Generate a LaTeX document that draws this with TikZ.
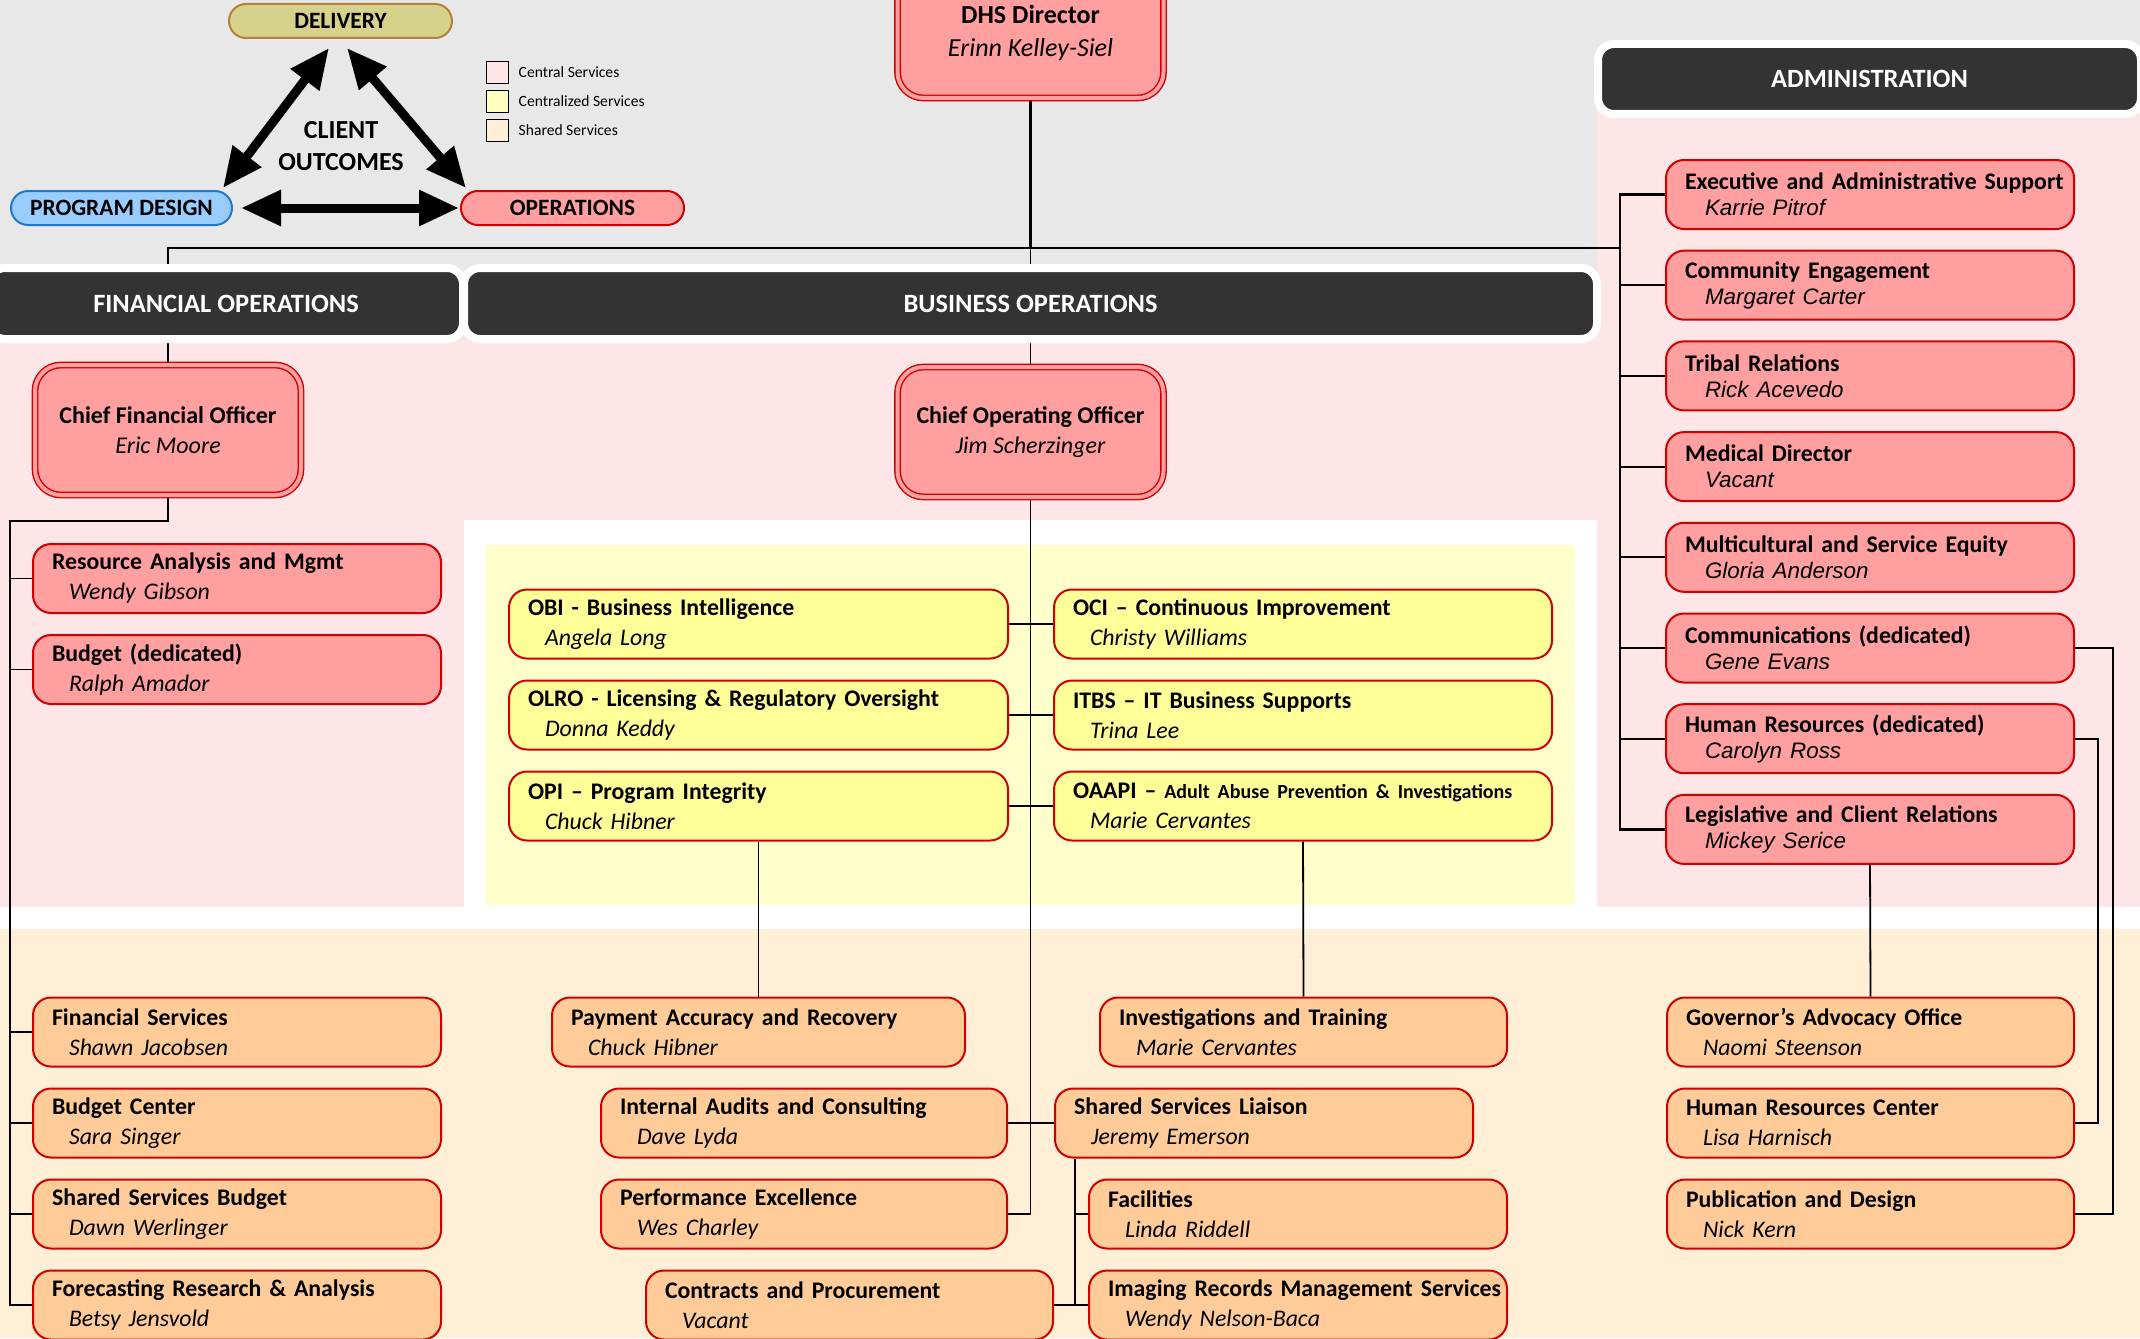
\documentclass[tikz,border=0pt]{standalone}
\usepackage{fontspec}
\setmainfont{Carlito}
\newfontfamily\arialfont{Liberation Sans}
\usetikzlibrary{positioning,arrows.meta}

\definecolor{backgray}{HTML}{E8E8E8}
\definecolor{centralbg}{HTML}{FDE5E8}
\definecolor{centralizedbg}{HTML}{FFFFCC}
\definecolor{sharedbg}{HTML}{FFEFD7}
\definecolor{centralfill}{HTML}{FF9F9F}
\definecolor{centralizedfill}{HTML}{FFFF99}
\definecolor{sharedfill}{HTML}{FFCC99}
\definecolor{unitline}{HTML}{D00000}
\definecolor{headdark}{HTML}{333333}
\definecolor{designfill}{HTML}{99CCFF}
\definecolor{designline}{HTML}{1F77D0}
\definecolor{deliveryfill}{HTML}{D7D28B}
\definecolor{deliveryline}{HTML}{B5803A}
\definecolor{keypink}{HTML}{FFE5E8}
\definecolor{keyyellow}{HTML}{FFFFC0}
\definecolor{keypeach}{HTML}{FFEFD6}

\pgfdeclarelayer{bg}
\pgfdeclarelayer{wires}
\pgfsetlayers{bg,wires,main}

\newcommand{\orgtext}[2]{\hspace*{9.5pt}\mbox{\textbf{#1}}\\\hspace*{18pt}\mbox{\textit{#2}}}
\newcommand{\admintext}[2]{\hspace*{9.5pt}\mbox{\textbf{#1}}\\\hspace*{19.5pt}\mbox{\arialfont\itshape\fontsize{11.2}{13}\selectfont #2}}

\begin{document}
\begin{tikzpicture}[x=0.5pt,y=-0.5pt]
  \tikzstyle{orgbox}=[rectangle,rounded corners=9pt,draw=unitline,line width=1pt,minimum height=34.5pt,inner sep=0pt,align=left,font=\fontsize{11.9}{15}\selectfont,node distance=45.5pt]
  \tikzstyle{central unit}=[orgbox,fill=centralfill]
  \tikzstyle{admin unit}=[central unit,node distance=45.35pt,font=\fontsize{11.9}{13}\selectfont]
  \tikzstyle{centralized unit}=[orgbox,fill=centralizedfill]
  \tikzstyle{shared unit}=[orgbox,fill=sharedfill]
  \tikzstyle{chief}=[rectangle,rounded corners=13pt,fill=centralfill,draw=unitline,double=centralfill,double distance=2pt,line width=0.7pt,minimum width=133pt,minimum height=65pt,align=center,font=\fontsize{12}{15}\selectfont]
  \tikzstyle{division}=[rectangle,rounded corners=8pt,fill=headdark,draw=white,line width=4pt,minimum height=35.5pt,inner sep=0pt,text=white,font=\fontsize{13.2}{15}\selectfont\bfseries]
  \tikzstyle{capsule}=[rectangle,rounded corners=8.5pt,line width=1pt,minimum width=111.5pt,minimum height=17pt,inner sep=0pt,font=\fontsize{11.7}{14}\selectfont\bfseries]
  \tikzstyle{bigarrow}=[line width=4.5pt,arrows={Triangle[length=20pt,width=17pt]-Triangle[length=20pt,width=17pt]}]
  \tikzstyle{keybox}=[rectangle,draw=black,line width=0.8pt,minimum size=11pt,inner sep=0pt,node distance=14.5pt]
  \tikzstyle{keytext}=[inner sep=0pt,font=\fontsize{7.8}{9}\selectfont]
  \tikzstyle{link}=[draw=black,line width=0.9pt]

  \useasboundingbox (0,0) rectangle (2140,1338);
  \clip (0,0) rectangle (2140,1338);

  % service areas
  \begin{pgfonlayer}{bg}
    \fill[backgray] (0,0) rectangle (2140,343);
    \fill[centralbg] (0,335) rectangle (1597,907);
    \fill[white] (464,520) rectangle (1597,929);
    \fill[centralizedbg] (486,545) rectangle (1575,905);
    \fill[centralbg] (1597,110) rectangle (2140,907);
    \fill[white] (0,907) rectangle (2140,929);
    \fill[sharedbg] (0,929) rectangle (2140,1338);
  \end{pgfonlayer}

  % client outcomes triangle
  \node[capsule,fill=deliveryfill,draw=deliveryline] (delivery) at (340.5,21) {DELIVERY};
  \node[capsule,fill=designfill,draw=designline,minimum width=110.5pt] (design) at (121.5,208) {PROGRAM DESIGN};
  \node[capsule,fill=centralfill,draw=unitline] (operations) at (572.5,208) {OPERATIONS};
  \node[align=center,font=\fontsize{13}{16}\selectfont\bfseries] (outcomes) at (341,146) {CLIENT\\OUTCOMES};
  \draw[bigarrow] ([xshift=-5.75pt,yshift=-4.5pt]delivery.south) -- ([xshift=-5pt,yshift=1pt]design.north east);
  \draw[bigarrow] ([xshift=3.25pt,yshift=-4.5pt]delivery.south) -- ([xshift=3pt,yshift=1pt]operations.north west);
  \draw[bigarrow] ([xshift=4pt]design.east) -- ([xshift=-0.5pt]operations.west);

  % key
  \node[keybox,fill=keypink] (key1) at (497.5,72.5) {};
  \node[keybox,fill=keyyellow] (key2) [below of=key1] {};
  \node[keybox,fill=keypeach] (key3) [below of=key2] {};
  \node[keytext,right=4.5pt of key1] (keylab1) {Central Services};
  \node[keytext,right=4.5pt of key2] (keylab2) {Centralized Services};
  \node[keytext,right=4.5pt of key3] (keylab3) {Shared Services};

  % director and divisions
  \node[chief,font=\fontsize{13}{16.5}\selectfont] (dhs) at (1030.5,33) {\textbf{DHS Director}\\\textit{Erinn Kelley-Siel}};
  \node[division,minimum width=237pt] (finops) at (226,303.5) {FINANCIAL OPERATIONS};
  \node[division,minimum width=566.5pt] (busops) at (1030.5,303.5) {BUSINESS OPERATIONS};
  \node[division,minimum width=271.5pt,minimum height=35pt] (admin) at (1869.5,79) {ADMINISTRATION};

  \node[chief] (cfo) at (168,430) {\textbf{Chief Financial Officer}\\\textit{Eric Moore}};
  \node[chief] (coo) at (1030.5,432) {\textbf{Chief Operating Officer}\\\textit{Jim Scherzinger}};

  % financial operations
  \node[central unit,text width=204pt] (resource) at (237,578.5) {\orgtext{Resource Analysis and Mgmt}{Wendy Gibson}};
  \node[central unit,text width=204pt] (budget) [below of=resource] {\orgtext{Budget (dedicated)}{Ralph Amador}};
  \node[shared unit,text width=204pt] (finserv) at (237,1032) {\orgtext{Financial Services}{Shawn Jacobsen}};
  \node[shared unit,text width=204pt] (budgetctr) [below of=finserv] {\orgtext{Budget Center}{Sara Singer}};
  \node[shared unit,text width=204pt] (ssbudget) [below of=budgetctr] {\orgtext{Shared Services Budget}{Dawn Werlinger}};
  \node[shared unit,text width=204pt] (forecast) [below of=ssbudget] {\orgtext{Forecasting Research \& Analysis}{Betsy Jensvold}};

  % administration
  \node[admin unit,text width=204pt] (exec) at (1870,194.5) {\admintext{Executive and Administrative Support}{Karrie Pitrof}};
  \node[admin unit,text width=204pt] (community) [below of=exec] {\admintext{Community Engagement}{Margaret Carter}};
  \node[admin unit,text width=204pt] (tribal) [below of=community] {\admintext{Tribal Relations}{Rick Acevedo}};
  \node[admin unit,text width=204pt] (medical) [below of=tribal] {\admintext{Medical Director}{Vacant}};
  \node[admin unit,text width=204pt] (equity) [below of=medical] {\admintext{Multicultural and Service Equity}{Gloria Anderson}};
  \node[admin unit,text width=204pt] (comms) [below of=equity] {\admintext{Communications (dedicated)}{Gene Evans}};
  \node[admin unit,text width=204pt] (hrdedicated) [below of=comms] {\admintext{Human Resources (dedicated)}{Carolyn Ross}};
  \node[admin unit,text width=204pt] (legislative) [below of=hrdedicated] {\admintext{Legislative and Client Relations}{Mickey Serice}};
  \node[shared unit,text width=203.5pt] (governor) at (1870.5,1032) {\orgtext{Governor’s Advocacy Office}{Naomi Steenson}};
  \node[shared unit,text width=203.5pt] (hrcenter) [below of=governor] {\orgtext{Human Resources Center}{Lisa Harnisch}};
  \node[shared unit,text width=203.5pt] (pubdesign) [below of=hrcenter] {\orgtext{Publication and Design}{Nick Kern}};

  % business operations
  \node[centralized unit,text width=249.5pt] (obi) at (758.5,624) {\orgtext{OBI - Business Intelligence}{Angela Long}};
  \node[centralized unit,text width=249.5pt] (olro) [below of=obi] {\orgtext{OLRO - Licensing \& Regulatory Oversight}{Donna Keddy}};
  \node[centralized unit,text width=249.5pt] (opi) [below of=olro] {\orgtext{OPI – Program Integrity}{Chuck Hibner}};
  \node[centralized unit,text width=249pt] (oci) at (1303,624) {\orgtext{OCI – Continuous Improvement}{Christy Williams}};
  \node[centralized unit,text width=249pt] (itbs) [below of=oci] {\orgtext{ITBS – IT Business Supports}{Trina Lee}};
  \node[centralized unit,text width=249pt] (oaapi) [below of=itbs] {\orgtext{OAAPI – {\fontsize{10}{15}\selectfont Adult Abuse Prevention \& Investigations}}{Marie Cervantes}};

  \node[shared unit,text width=206.5pt] (payment) at (758.5,1032) {\orgtext{Payment Accuracy and Recovery}{Chuck Hibner}};
  \node[shared unit,text width=203pt] (audits) at (804,1123) {\orgtext{Internal Audits and Consulting}{Dave Lyda}};
  \node[shared unit,text width=203pt] (perfex) [below of=audits] {\orgtext{Performance Excellence}{Wes Charley}};
  \node[shared unit,text width=203.5pt] (contracts) at (849.5,1305) {\orgtext{Contracts and Procurement}{Vacant}};
  \node[shared unit,text width=203.5pt] (invest) at (1303.5,1032) {\orgtext{Investigations and Training}{Marie Cervantes}};
  \node[shared unit,text width=209pt] (liaison) at (1264,1123) {\orgtext{Shared Services Liaison}{Jeremy Emerson}};
  \node[shared unit,text width=209pt] (facilities) at (1298,1214) {\orgtext{Facilities}{Linda Riddell}};
  \node[shared unit,text width=209pt] (imaging) [below of=facilities] {\orgtext{Imaging Records Management Services}{Wendy Nelson-Baca}};

  % reporting lines
  \begin{pgfonlayer}{wires}
    \coordinate (adminrail) at (1620,248);
    \coordinate (finrail) at (10,521);
    \coordinate (ssrail) at ([xshift=10.5pt]liaison.south west);
    \draw[link,line width=1.3pt] (dhs.south) -- (dhs.south |- adminrail);
    \draw[link] (dhs.south |- adminrail) -- (busops.north);
    \draw[link] (cfo.north) -- (cfo.north |- adminrail) -- (adminrail);
    \draw[link,line width=1.2pt] (exec.west) -| (legislative.west -| adminrail) -- (legislative.west);
    \foreach \u in {community,tribal,medical,equity,comms,hrdedicated}
      \draw[link] (\u.west) -- (\u.west -| adminrail);
    \draw[link,line width=1.1pt] (cfo.south) |- (finrail) |- (forecast.west);
    \foreach \u in {resource,budget,finserv,budgetctr,ssbudget}
      \draw[link] (\u.west) -- (\u.west -| finrail);
    \draw[link] (busops.south) -- (coo.north);
    \draw[link] (coo.south) |- (perfex.east);
    \draw[link] (obi.east) -- (oci.west);
    \draw[link] (olro.east) -- (itbs.west);
    \draw[link] (opi.east) -- (oaapi.west);
    \draw[link] (opi.south) -- (payment.north);
    \draw[link] (oaapi.south) -- (invest.north);
    \draw[link] (audits.east) -- (liaison.west);
    \draw[link] (ssrail) |- (imaging.west);
    \draw[link] (facilities.west) -- (facilities.west -| ssrail);
    \draw[link] (contracts.east) -- (imaging.west);
    \draw[link] (legislative.south) -- (governor.north);
    \draw[link] (hrdedicated.east) -- ++(23,0) |- (hrcenter.east);
    \draw[link] (comms.east) -- ++(38,0) |- (pubdesign.east);
  \end{pgfonlayer}
\end{tikzpicture}
\end{document}
